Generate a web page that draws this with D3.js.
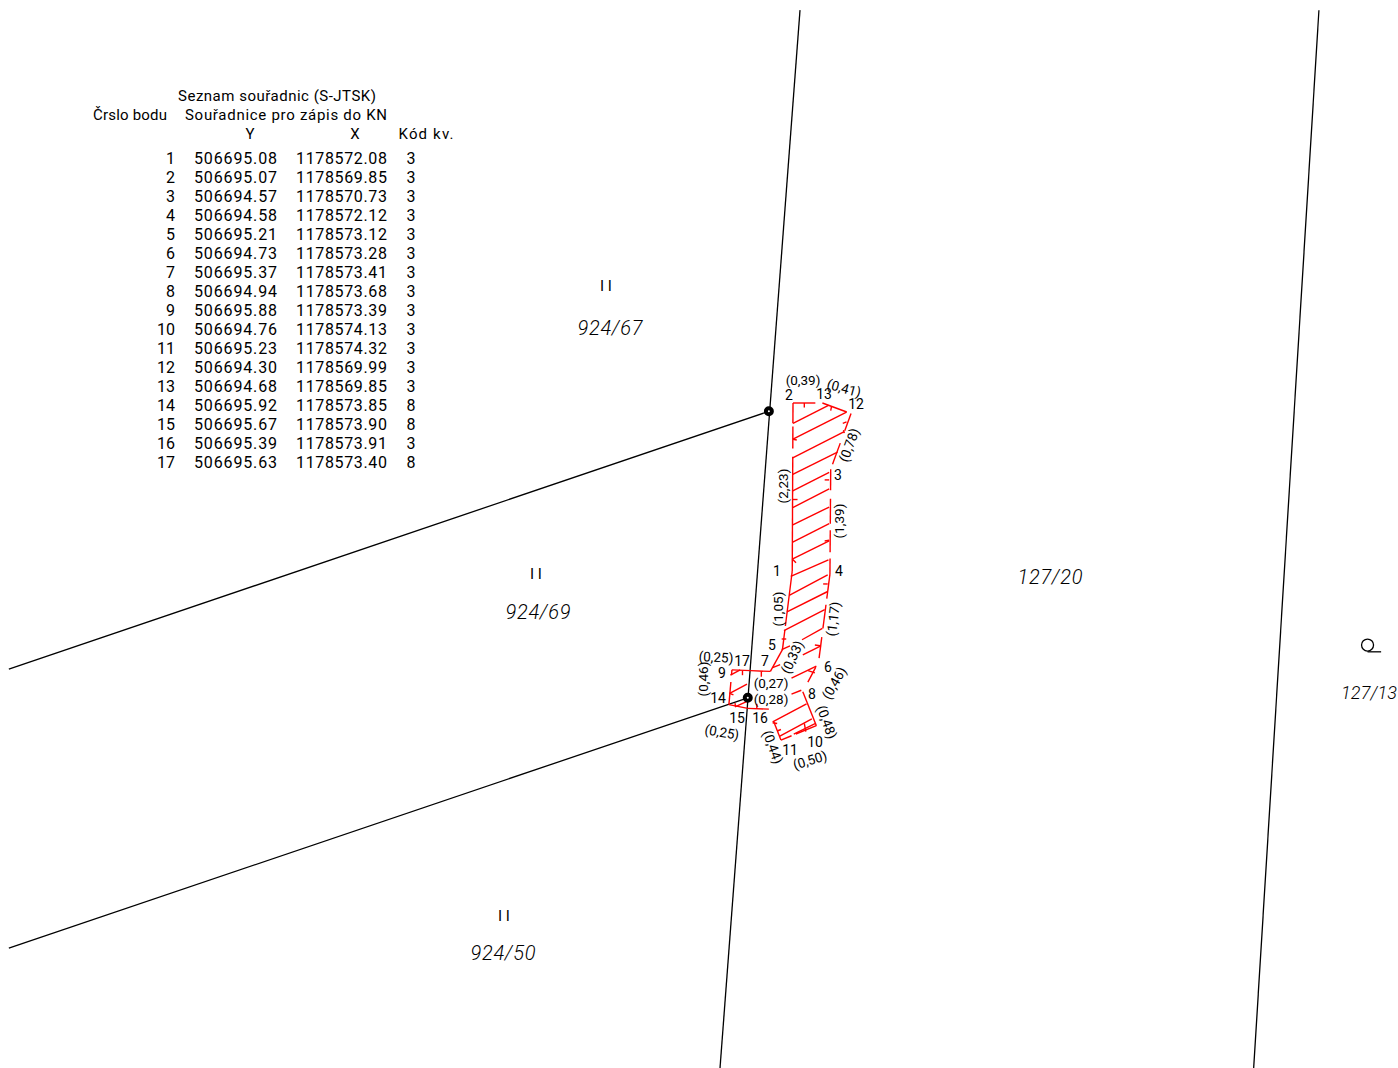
<!DOCTYPE html>
<html lang="cs">
<head>
<meta charset="utf-8">
<title>Seznam souradnic</title>
<script src="https://d3js.org/d3.v7.min.js"></script>
<style>
body{margin:0;background:#fff;}
svg{display:block;}
text{font-family:Roboto,"Liberation Sans",sans-serif;font-weight:400;fill:#000;}
</style>
</head>
<body>
<div id="chart"></div>
<script>
// survey points, from the table (S-JTSK)
var pointId = d3.range(1, 18)
var pointY = [506695.08,506695.07,506694.57,506694.58,506695.21,506694.73,506695.37,506694.94,506695.88,506694.76,506695.23,506694.30,506694.68,506695.92,506695.67,506695.39,506695.63]
var pointX = [1178572.08,1178569.85,1178570.73,1178572.12,1178573.12,1178573.28,1178573.41,1178573.68,1178573.39,1178574.13,1178574.32,1178569.99,1178569.85,1178573.85,1178573.90,1178573.91,1178573.40]
var pointCode = [3,3,3,3,3,3,3,3,3,3,3,3,3,8,8,3,8]

// red boundary: from point, to point, visible part of the edge
var edges = [[2,13,0,.76],[13,12,0,.85],[12,3,0,.31],[12,3,.53,.91],
  [3,4,0,.2],[3,4,.28,.52],[3,4,.58,.79],[3,4,.85,1],
  [2,1,0,.12],[2,1,.14,.27],[2,1,.32,1],
  [1,5,0,.7],[1,5,.75,1],[5,7,0,1],[7,17,0,1],[17,9,0,1],
  [9,14,0,.15],[9,14,.35,1],[14,15,0,1],[15,16,0,1],[16,11,.4,1],
  [11,10,0,.3],[11,10,.42,1],[10,8,0,1],[8,6,.32,.82],
  [6,4,.04,.28],[6,4,.38,.65],[6,4,.72,1]]

// hatching and short ticks, metres east/south of point 2
var hatches = [[0,.27,.47,.03],[0,.48,.71,.12],[-.01,.73,.68,.38],[-.01,.95,.59,.65],[-.01,1.17,.48,.92],
  [-.01,1.39,.48,1.14],[-.01,1.62,.48,1.38],[-.01,1.85,.48,1.60],[-.01,2.07,.48,1.83],[-.03,2.30,.47,2.08],
  [-.05,2.55,.46,2.28],[-.08,2.77,.46,2.50],[-.12,3.02,.42,2.74],[-.15,3.27,-.04,3.22],[.12,3.14,.39,2.99],
  [.13,3.34,.37,3.22],[-.27,3.51,-.17,3.47],[-.02,3.65,.31,3.49],[-.02,3.86,.11,3.81],[-.27,4.23,.18,3.99],
  [-.18,4.42,.25,4.19],[.01,4.39,.30,4.25],[-.84,3.85,-.61,3.73],[-.77,4.03,-.55,3.93],[-.83,3.61,-.70,3.54]]
var ticks = [[.15,0,.15,.06],[.51,.05,.50,.10],[.66,.27,.71,.25],[.67,.36,.68,.40],[.42,1.02,.48,1.02],
  [-.01,1.28,.06,1.28],[.42,1.83,.48,1.82],[-.01,2.07,.04,2.12],[.40,2.40,.46,2.40],[-.15,3.13,-.09,3.13],
  [.29,3.21,.36,3.22],[-.67,3.55,-.67,3.61],[-.42,3.56,-.42,3.63],[-.77,3.98,-.76,4.03],[-.48,3.99,-.48,4.06],
  [.15,4.25,.17,4.36],[-.27,4.24,-.21,4.25],[-.21,4.35,-.16,4.33],[.20,3.55,.29,3.58],[-.84,3.85,-.79,3.87],[0,.48,.05,.49]]

// parcel borders and boundary stones, same units
var parcelLines = [[.093,-5.21,-.968,8.82],[6.975,-5.21,6.11,8.82],[-10.40,3.53,-.32,.11],[-10.40,7.23,-.60,3.91]]
var stones = [[-.32,.11],[-.60,3.91]]

var parcelNames = ["924/67","924/69","924/50","127/20","127/13"]
var dimTexts = ["(0,39)","(0,41)","(0,78)","(2,23)","(1,39)","(1,05)","(1,17)","(0,33)","(0,46)","(0,25)","(0,27)","(0,28)","(0,25)","(0,46)","(0,48)","(0,44)","(0,50)"]

var w = 1398, h = 1068
var svg = d3.select("#chart").append("svg").attr("width", w).attr("height", h)

// 75.4 px to the metre, origin on point 2
var east = d3.scaleLinear().domain([0, 1]).range([793, 868.4])
var south = d3.scaleLinear().domain([0, 1]).range([403, 478.4])
var y0 = pointY[1], x0 = pointX[1]
function px(i){ return east(y0 - pointY[i-1]) }
function py(i){ return south(pointX[i-1] - x0) }

svg.selectAll(".parcel").data(parcelLines).enter().append("line")
  .attr("class", "parcel").attr("stroke", "#000").attr("stroke-width", 1.3)
  .attr("x1", d => east(d[0])).attr("y1", d => south(d[1]))
  .attr("x2", d => east(d[2])).attr("y2", d => south(d[3]))

var red = svg.append("g").attr("stroke", "#f00").attr("stroke-width", 1.4).attr("fill", "none")
red.selectAll(".edge").data(edges).enter().append("line").attr("class", "edge")
  .attr("x1", d => px(d[0]) + (px(d[1]) - px(d[0])) * d[2])
  .attr("y1", d => py(d[0]) + (py(d[1]) - py(d[0])) * d[2])
  .attr("x2", d => px(d[0]) + (px(d[1]) - px(d[0])) * d[3])
  .attr("y2", d => py(d[0]) + (py(d[1]) - py(d[0])) * d[3])
red.selectAll(".hatch").data(hatches.concat(ticks)).enter().append("line").attr("class", "hatch")
  .attr("x1", d => east(d[0])).attr("y1", d => south(d[1]))
  .attr("x2", d => east(d[2])).attr("y2", d => south(d[3]))

svg.selectAll(".stone").data(stones).enter().append("circle").attr("class", "stone")
  .attr("cx", d => east(d[0])).attr("cy", d => south(d[1]))
  .attr("r", 3).attr("fill", "#fff").attr("stroke", "#000").attr("stroke-width", 4)

// land use sign at the right edge
svg.append("circle").attr("cx", east(7.62)).attr("cy", south(3.21)).attr("r", 6)
  .attr("fill", "none").attr("stroke", "#000").attr("stroke-width", 1.3)
svg.append("line").attr("x1", east(7.62)).attr("y1", south(3.30)).attr("x2", east(7.80)).attr("y2", south(3.30))
  .attr("stroke", "#000").attr("stroke-width", 1.3)

function label(x, y, s, size, angle, anchor){
  return svg.append("text").attr("font-size", size).attr("text-anchor", anchor || "middle")
    .attr("dominant-baseline", "central")
    .attr("transform", "translate(" + x + "," + y + ") rotate(" + (angle || 0) + ")").text(s)
}

// table
label(277, 96, "Seznam souřadnic (S-JTSK)", 15).attr("textLength", 198)
label(130, 115, "Črslo bodu", 15).attr("textLength", 74)
label(286, 115, "Souřadnice pro zápis do KN", 15).attr("textLength", 202)
label(250, 134, "Y", 15)
label(355, 134, "X", 15)
label(426, 134, "Kód kv.", 15).attr("textLength", 55)
var rowY = d3.scaleLinear().domain([1, 17]).range([158, 462])
pointId.forEach(function(id, i){
  label(175, rowY(id), id, 16, 0, "end")
  label(277, rowY(id), pointY[i].toFixed(2), 16, 0, "end").attr("textLength", 83)
  label(387, rowY(id), pointX[i].toFixed(2), 16, 0, "end").attr("textLength", 91)
  label(411, rowY(id), pointCode[i], 16)
})

// point numbers around the plot
var numberPlace = [[777,571],[789,395],[838,475],[839,571],[772,645],[828,667],[765,661],[812,694],[722,673],[815,742],[790,750],[856,404],[824,394],[718,698],[737,718],[760,718],[742,661]]
pointId.forEach(function(id, i){ label(numberPlace[i][0], numberPlace[i][1], id, 14) })

// measured lengths
var dimPlace = [[803,380,0],[844,388,15],[849,445,-70],[783,486,-90],[839,521,-90],[778,609,-90],[833,619,-83],[792,657,-65],[703,679,-90],[716,657,3],[771,683,0],[771,699,0],[722,732,10],[834,683,-60],[827,722,70],[773,747,70],[810,760,-17]]
dimTexts.forEach(function(t, i){ label(dimPlace[i][0], dimPlace[i][1], t, 13.5, dimPlace[i][2]) })

// parcels
var parcelPlace = [[610,328],[538,612],[503,953],[1050,577],[1369,692]]
parcelNames.forEach(function(t, i){
  label(parcelPlace[i][0], parcelPlace[i][1], t, i == 4 ? 18 : 20).attr("font-style", "italic")
    .style("font-weight", 300).attr("textLength", i == 4 ? 56 : 65)
})
var romanPlace = [[606,286],[536,574],[504,916]]
romanPlace.forEach(function(p){ label(p[0], p[1], "I I", 15) })
</script>
</body>
</html>
